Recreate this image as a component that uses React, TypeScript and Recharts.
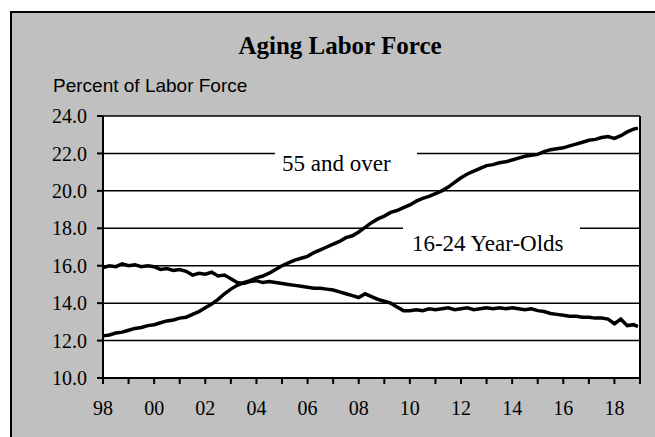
import {
  LineChart,
  Line,
  XAxis,
  YAxis,
  CartesianGrid,
  ReferenceArea,
  ReferenceLine,
} from "recharts";

// quarterly readings, decimal years
const periods = [
  1998, 1998.25, 1998.5, 1998.75, 1999, 1999.25, 1999.5, 1999.75,
  2000, 2000.25, 2000.5, 2000.75, 2001, 2001.25, 2001.5, 2001.75,
  2002, 2002.25, 2002.5, 2002.75, 2003, 2003.25, 2003.5, 2003.75,
  2004, 2004.25, 2004.5, 2004.75, 2005, 2005.25, 2005.5, 2005.75,
  2006, 2006.25, 2006.5, 2006.75, 2007, 2007.25, 2007.5, 2007.75,
  2008, 2008.25, 2008.5, 2008.75, 2009, 2009.25, 2009.5, 2009.75,
  2010, 2010.25, 2010.5, 2010.75, 2011, 2011.25, 2011.5, 2011.75,
  2012, 2012.25, 2012.5, 2012.75, 2013, 2013.25, 2013.5, 2013.75,
  2014, 2014.25, 2014.5, 2014.75, 2015, 2015.25, 2015.5, 2015.75,
  2016, 2016.25, 2016.5, 2016.75, 2017, 2017.25, 2017.5, 2017.75,
  2018, 2018.25, 2018.5, 2018.75, 2018.92,
];

const over55 = [
  12.25, 12.3, 12.4, 12.45, 12.55, 12.65, 12.7, 12.8,
  12.85, 12.95, 13.05, 13.1, 13.2, 13.25, 13.4, 13.55,
  13.75, 13.95, 14.2, 14.5, 14.75, 14.95, 15.1, 15.2,
  15.35, 15.45, 15.6, 15.8, 16.0, 16.15, 16.3, 16.4,
  16.5, 16.7, 16.85, 17.0, 17.15, 17.3, 17.5, 17.6,
  17.8, 18.05, 18.3, 18.5, 18.65, 18.85, 18.95, 19.1,
  19.25, 19.45, 19.6, 19.7, 19.85, 20.0, 20.2, 20.45,
  20.7, 20.9, 21.05, 21.2, 21.35, 21.4, 21.5, 21.55,
  21.65, 21.75, 21.85, 21.9, 21.95, 22.1, 22.2, 22.25,
  22.3, 22.4, 22.5, 22.6, 22.7, 22.75, 22.85, 22.9,
  22.8, 22.95, 23.15, 23.3, 23.35,
];

const youth = [
  15.9, 16.0, 15.95, 16.1, 16.0, 16.05, 15.95, 16.0,
  15.95, 15.8, 15.85, 15.75, 15.8, 15.7, 15.5, 15.6,
  15.55, 15.65, 15.45, 15.5, 15.3, 15.1, 15.05, 15.15,
  15.2, 15.1, 15.15, 15.1, 15.05, 15.0, 14.95, 14.9,
  14.85, 14.8, 14.8, 14.75, 14.7, 14.6, 14.5, 14.4,
  14.3, 14.5, 14.35, 14.2, 14.1, 14.0, 13.8, 13.6,
  13.6, 13.65, 13.6, 13.7, 13.65, 13.7, 13.75, 13.65,
  13.7, 13.75, 13.65, 13.7, 13.75, 13.7, 13.75, 13.7,
  13.75, 13.7, 13.65, 13.7, 13.6, 13.55, 13.45, 13.4,
  13.35, 13.3, 13.3, 13.25, 13.25, 13.2, 13.2, 13.15,
  12.9, 13.15, 12.8, 12.85, 12.75,
];

const yearTicks = [
  1998, 1999, 2000, 2001, 2002, 2003, 2004, 2005, 2006, 2007, 2008,
  2009, 2010, 2011, 2012, 2013, 2014, 2015, 2016, 2017, 2018, 2019,
];
const valueTicks = [10, 12, 14, 16, 18, 20, 22, 24];

const chartData = periods.map((t, i) => ({
  t,
  over55: over55[i],
  youth: youth[i],
}));

const serif = "'Liberation Serif', 'Times New Roman', serif";
const sans = "'Liberation Sans', Arial, sans-serif";

const App = () => {
  return (
    <div
      style={{
        position: "fixed",
        left: 0,
        top: 0,
        width: 655,
        height: 437,
        overflow: "hidden",
        background: "#fff",
      }}
    >
      <div
        style={{
          position: "absolute",
          left: 10,
          top: 11,
          width: 700,
          height: 500,
          background: "#c0c0c0",
          border: "2px solid #000",
        }}
      />
      <div
        style={{
          position: "absolute",
          left: 0,
          top: 33,
          width: 680,
          textAlign: "center",
          fontFamily: serif,
          fontWeight: "bold",
          fontSize: 25,
          lineHeight: 1,
        }}
      >
        Aging Labor Force
      </div>
      <div
        style={{
          position: "absolute",
          left: 53,
          top: 76,
          fontFamily: sans,
          fontSize: 19,
          lineHeight: 1,
        }}
      >
        Percent of Labor Force
      </div>
      <div style={{ position: "absolute", left: 0, top: 0 }}>
        <LineChart
          width={655}
          height={437}
          data={chartData}
          margin={{ top: 116, right: 15, bottom: 0, left: 0 }}
        >
          <CartesianGrid
            vertical={false}
            stroke="#000"
            strokeWidth={1.5}
            fill="#fff"
            fillOpacity={1}
          />
          <XAxis
            dataKey="t"
            type="number"
            domain={[1998, 2019]}
            ticks={yearTicks}
            interval={0}
            height={59}
            tickSize={6}
            tickMargin={17}
            tickFormatter={(y: number) =>
              y % 2 === 0 ? String(y).slice(2) : ""
            }
            tick={{ fill: "#000", fontSize: 20, fontFamily: serif }}
            axisLine={{ stroke: "#000", strokeWidth: 2 }}
            tickLine={{ stroke: "#000", strokeWidth: 2 }}
          />
          <YAxis
            type="number"
            domain={[10, 24]}
            ticks={valueTicks}
            interval={0}
            width={103}
            tickSize={6}
            tickMargin={10}
            tickFormatter={(v: number) => v.toFixed(1)}
            tick={{ fill: "#000", fontSize: 20, fontFamily: serif }}
            axisLine={{ stroke: "#000", strokeWidth: 2 }}
            tickLine={{ stroke: "#000", strokeWidth: 2 }}
          />
          <ReferenceLine x={2019} stroke="#000" strokeWidth={2} />
          <ReferenceArea
            x1={2004.73}
            x2={2010.28}
            y1={20.9}
            y2={22.1}
            fill="#fff"
            fillOpacity={1}
            stroke="none"
            label={{
              value: "55 and over",
              position: "insideLeft",
              offset: 7,
              fill: "#000",
              fontSize: 23,
              fontFamily: serif,
            }}
          />
          <ReferenceArea
            x1={2009.73}
            x2={2016.65}
            y1={16.3}
            y2={18.1}
            fill="#fff"
            fillOpacity={1}
            stroke="none"
            label={{
              value: "16-24 Year-Olds",
              position: "insideLeft",
              offset: 9,
              fill: "#000",
              fontSize: 23,
              fontFamily: serif,
            }}
          />
          <Line
            dataKey="over55"
            type="linear"
            stroke="#000"
            strokeWidth={3.5}
            dot={false}
            isAnimationActive={false}
          />
          <Line
            dataKey="youth"
            type="linear"
            stroke="#000"
            strokeWidth={3.5}
            dot={false}
            isAnimationActive={false}
          />
        </LineChart>
      </div>
    </div>
  );
};

export default App;
